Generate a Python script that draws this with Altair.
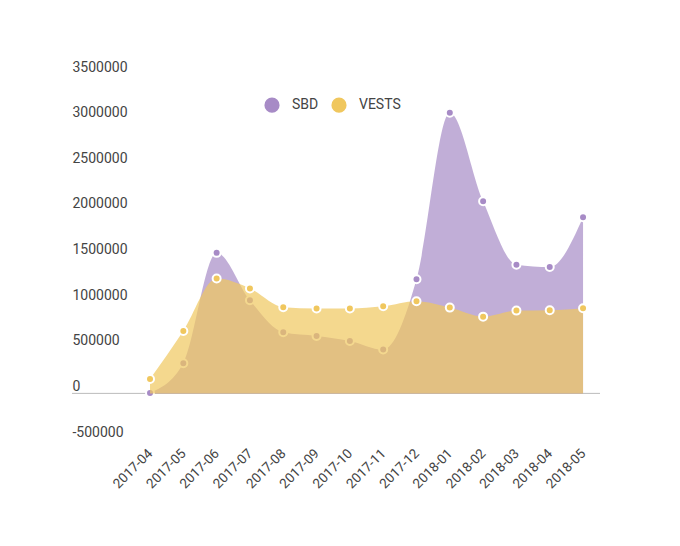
import json
import altair as alt
import pandas as pd

months = ["2017-04", "2017-05", "2017-06", "2017-07", "2017-08", "2017-09", "2017-10",
          "2017-11", "2017-12", "2018-01", "2018-02", "2018-03", "2018-04", "2018-05"]
sbd = [5000, 330000, 1540000, 1020000, 670000, 630000, 575000, 480000,
       1250000, 3075000, 2105000, 1410000, 1385000, 1930000]
vests = [157000, 684000, 1258000, 1150000, 944000, 930000, 930000, 955000,
         1010000, 940000, 841000, 907000, 910000, 932000]
series = ["SBD", "VESTS"]
colors = ["#a78bc6", "#f0c75e"]
y_ticks = [-500000, 0, 500000, 1000000, 1500000, 2000000, 2500000, 3000000, 3500000]

rows = []
for name, vals in zip(series, [sbd, vests]):
    for i, (m, v) in enumerate(zip(months, vals)):
        rows.append({"idx": i, "month": m, "value": v, "series": name})
df = pd.DataFrame(rows)

FONT = "Roboto"
label_expr = json.dumps(months) + "[datum.value]"

x_enc = alt.X("idx:Q",
              scale=alt.Scale(domain=[-2.342, 13.509], nice=False, zero=False),
              axis=alt.Axis(title=None, values=list(range(len(months))), labelExpr=label_expr,
                            labelAngle=-45, labelAlign="right",
                            labelBaseline="middle", labelPadding=12, ticks=False,
                            domain=False, grid=False, labelFontSize=13.5, labelFlush=False,
                            labelOverlap=False,
                            labelColor="#444444", labelFont=FONT))
y_enc = alt.Y("value:Q",
              scale=alt.Scale(domain=[-500000, 3500000], nice=False, zero=False),
              axis=alt.Axis(title=None, values=y_ticks, labelExpr="'' + datum.value",
                            labelAlign="left",
                            labelBaseline="alphabetic", labelOffset=-3, labelPadding=0,
                            ticks=False, domain=False, grid=False, labelFontSize=14,
                            labelFlush=False, labelOverlap=False,
                            labelColor="#444444", labelFont=FONT))
legend = alt.Legend(title=None, orient="none", direction="horizontal", legendX=192,
                    legendY=23, symbolType="circle", symbolSize=230, symbolOpacity=1,
                    symbolStrokeWidth=0, labelFontSize=14, labelColor="#444444",
                    labelFont=FONT, labelOffset=12, columnPadding=12, padding=0)
c_enc = alt.Color("series:N", scale=alt.Scale(domain=series, range=colors), legend=legend)

base = alt.Chart(df)

zero_rule = alt.Chart(pd.DataFrame({"z": [0]})).mark_rule(color="#bbbbbb", strokeWidth=1).encode(
    y=alt.Y("z:Q", scale=alt.Scale(domain=[-500000, 3500000], nice=False, zero=False)))

layers = [zero_rule]
for s in series:
    sub = base.transform_filter(alt.datum.series == s)
    layers.append(sub.mark_area(interpolate="monotone", opacity=0.7).encode(
        x=x_enc, y=y_enc, color=c_enc))
    layers.append(sub.mark_point(filled=True, size=64, opacity=1, stroke="white",
                                 strokeWidth=2, strokeOpacity=1).encode(
        x=x_enc, y=y_enc, color=c_enc))

chart = alt.layer(*layers).properties(
    width=528, height=365,
    autosize=alt.AutoSizeParams(type="none"),
    padding={"left": 64, "top": 66, "right": 40, "bottom": 80},
).configure(font=FONT).configure_view(stroke=None, strokeWidth=0)

chart.save("out.html", embed_options={"renderer": "svg", "actions": False})
